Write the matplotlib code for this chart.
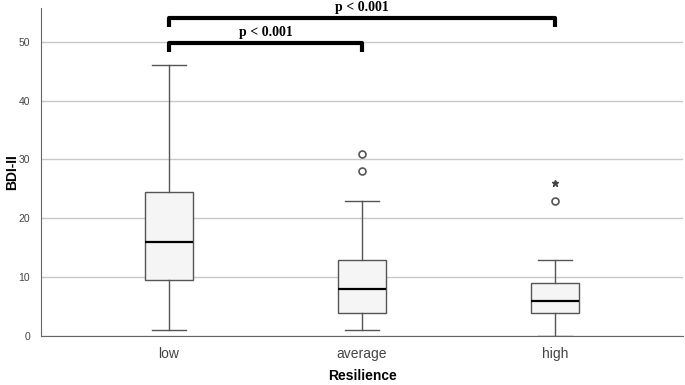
import matplotlib.pyplot as plt

# groups and box statistics
groups = ['low', 'average', 'high']
whislo = [1, 1, 0]
q1 = [9.5, 4, 4]
med = [16, 8, 6]
q3 = [24.5, 13, 9]
whishi = [46, 23, 13]
outliers = [[], [28, 31], [23]]
extremes = [[], [], [26]]

fig = plt.figure(figsize=(6.85, 3.85), dpi=100)
ax = fig.add_axes([0.06, 0.127, 0.937, 0.852])

stats = []
for i, g in enumerate(groups):
    stats.append(dict(label=g, whislo=whislo[i], q1=q1[i], med=med[i],
                      q3=q3[i], whishi=whishi[i], fliers=outliers[i]))

pos = list(range(len(groups)))
ax.bxp(stats, positions=pos, widths=0.25, patch_artist=True,
       boxprops=dict(facecolor='#f5f5f5', edgecolor='#555555', linewidth=1),
       medianprops=dict(color='black', linewidth=1.6),
       whiskerprops=dict(color='#555555', linewidth=1),
       capprops=dict(color='#555555', linewidth=1),
       flierprops=dict(marker='o', markerfacecolor='white', markeredgecolor='#555555',
                       markersize=5, markeredgewidth=1.2),
       capwidths=0.18, zorder=3)

for i, ex in enumerate(extremes):
    if ex:
        ax.plot([pos[i]] * len(ex), ex, marker='*', linestyle='none',
                color='#444444', markersize=4.5, zorder=3)

ax.set_xlim(-0.663, 2.663)
ax.set_ylim(0, 55.7)
ax.set_yticks([0, 10, 20, 30, 40, 50])
ax.yaxis.grid(True, color='#c8c8c8', linewidth=1)
ax.set_axisbelow(True)
for s in ['top', 'right']:
    ax.spines[s].set_visible(False)
for s in ['left', 'bottom']:
    ax.spines[s].set_color('#666666')
ax.tick_params(axis='y', length=0, labelsize=7.5, labelcolor='#444444', pad=8)
ax.tick_params(axis='x', length=0, labelsize=10, labelcolor='#444444', pad=8)
for t in ax.get_xticklabels() + ax.get_yticklabels():
    t.set_family('Liberation Sans')

ax.set_ylabel('BDI-II', fontsize=10, fontweight='bold', family='Liberation Sans')
ax.set_xlabel('Resilience', fontsize=10, fontweight='bold', family='Liberation Sans')
ax.yaxis.set_label_coords(-0.045, 0.5)
ax.xaxis.set_label_coords(0.5, -0.122)
ax.yaxis.label.set_va('center')
ax.xaxis.label.set_va('center')

# significance brackets
brackets = [(0, 1, 48.2, 49.8, 51.6), (0, 2, 52.5, 54.1, 55.8)]
for x0, x1, ylo, yhi, ytxt in brackets:
    ax.plot([x0, x0, x1, x1], [ylo, yhi, yhi, ylo], color='black', linewidth=3,
            solid_joinstyle='round', solid_capstyle='butt', clip_on=False, zorder=4)
    ax.text((x0 + x1) / 2, ytxt, 'p < 0.001', ha='center', va='center', fontsize=10,
            fontweight='bold', family='Liberation Serif', clip_on=False)

fig.savefig('out.png', dpi=100)
